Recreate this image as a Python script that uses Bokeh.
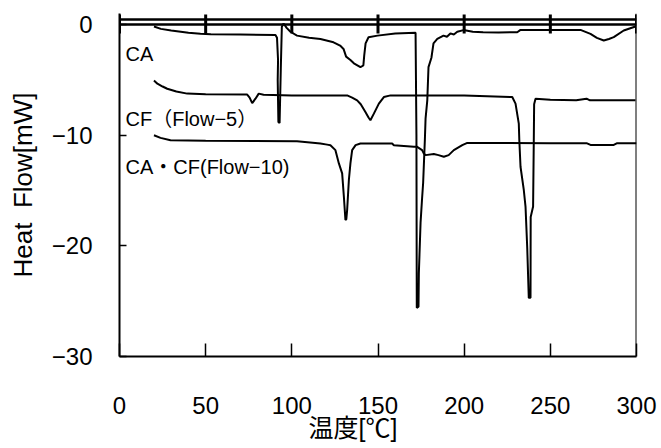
from bokeh.plotting import figure
from bokeh.models import Span, Range1d, FixedTicker
from bokeh.embed import file_html
from bokeh.resources import INLINE
from bokeh.core.properties import value

# ---- data ----
ca_x = [20, 24, 30, 40, 47, 53, 70, 90.5, 91.4, 92.0, 91.8, 92.2, 92.9, 93.6, 94.2, 95.2, 97, 99.2, 103, 110,
        116.6, 124.2, 128, 130, 131.5, 134, 136, 139.8, 141.5, 142.0, 142.8, 144.5, 149.7, 160, 171.8,
        172.3, 172.5, 173.5, 173.7, 174.7, 175.5, 176.2, 177.2, 177.6, 178.6, 179.3, 181, 182.2, 184.4,
        188, 190, 192, 194, 196, 199.6, 205, 211, 220, 230.8, 232.7, 250, 267.5, 273.3, 277, 281, 284,
        286.8, 292.6, 299.4]
ca_y = [-0.18, -0.39, -0.54, -0.75, -0.84, -0.88, -0.9, -0.95, -1.2, -3.2, -5.0, -8.8, -8.9, -4.0, -0.2, 0.1,
        -0.3, -0.65, -1.0, -1.2, -1.3, -1.6, -1.9, -2.2, -2.9, -3.2, -3.5, -3.85, -3.7, -2.8, -1.7, -1.15,
        -1.0, -0.8, -0.75, -10.0, -25.6, -25.5, -22.5, -17.9, -15.9, -14.3, -10.4, -8.5, -6.85, -3.85, -3.0,
        -1.7, -1.3, -1.0, -1.1, -0.8, -0.9, -0.65, -0.5, -0.65, -0.7, -0.72, -0.69, -0.48, -0.5, -0.48,
        -0.84, -1.2, -1.44, -1.3, -1.14, -0.54, -0.18]

cf_x = [20, 22, 25, 27.7, 33, 39.3, 50, 74.1, 75.5, 77, 78.9, 80.8, 83.6, 100, 132.1, 135, 137.9, 140,
        142.7, 144.5, 145.6, 147.6, 150.5, 153.4, 157.3, 200, 227.9, 229.8, 231.7, 232.0, 232.7, 234.6,
        235.6, 236.6, 237.5, 238.5, 238.6, 240.0, 240.4, 240.6, 241.4, 250, 265, 271, 273, 299.4]
cf_y = [-5.05, -5.34, -5.6, -5.8, -6.05, -6.24, -6.3, -6.33, -6.6, -7.1, -6.7, -6.24, -6.35, -6.4, -6.4,
        -6.6, -6.85, -7.2, -7.9, -8.4, -8.65, -8.05, -7.15, -6.55, -6.4, -6.4, -6.55, -7.15, -8.95, -10.45,
        -12.85, -14.95, -16.45, -20.2, -24.7, -24.7, -17.4, -16.45, -10.45, -7.2, -6.7, -6.8, -6.85, -6.7,
        -6.85, -6.85]

cacf_x = [20, 23.8, 29.6, 50, 103, 116.6, 120.5, 122.4, 125.3, 127.3, 129.2, 130.2, 131.1, 131.6, 132.1,
          133.1, 134, 135, 137, 139.8, 158.2, 159.2, 170.8, 172.7, 175.6, 176.6, 177.6, 182.4, 185.1, 188.2,
          191, 194, 198.9, 201.8, 250, 271, 273.3, 286.8, 288.8, 300]
cacf_y = [-10.0, -10.24, -10.45, -10.5, -10.54, -10.75, -10.85, -10.9, -11.35, -12.55, -13.45, -15.56,
          -17.66, -17.6, -16.76, -14.05, -12.55, -11.35, -10.9, -10.75, -10.75, -10.9, -11.05, -11.05,
          -11.35, -11.65, -11.8, -11.7, -11.8, -11.95, -11.8, -11.35, -10.9, -10.7, -10.72, -10.72, -10.88,
          -10.88, -10.72, -10.72]

series_names = ["CA", "CF（Flow−5）", "CA・CF(Flow−10)"]
label_x = [3.5, 3.5, 3.5]
label_y = [-2.62, -8.49, -12.83]

x_ticks = [0, 50, 100, 150, 200, 250, 300]
y_ticks = [-30, -20, -10, 0]
x_label = "温度[℃]\u3000\u3000"
y_label = "Heat\u00a0\u00a0Flow[mW]"

FONT = "Liberation Sans, Noto Sans CJK JP"

p = figure(width=661, height=448, x_range=Range1d(0, 300), y_range=Range1d(-30, 1.0),
           output_backend="svg", toolbar_location=None,
           min_border_left=119, min_border_right=25, min_border_top=13, min_border_bottom=92)
p.outline_line_color = None
p.xgrid.visible = False
p.ygrid.visible = False

for xs, ys in [(ca_x, ca_y), (cf_x, cf_y), (cacf_x, cacf_y)]:
    p.line(xs, ys, line_color="black", line_width=2)

# top double line and crossing ticks
p.add_layout(Span(location=0, dimension="width", line_color="black", line_width=2.5))
p.add_layout(Span(location=0.45, dimension="width", line_color="black", line_width=2.5))
p.add_layout(Span(location=300, dimension="height", line_color="black", line_width=2))
p.segment(x0=x_ticks, y0=[0.9] * len(x_ticks), x1=x_ticks, y1=[-0.8] * len(x_ticks),
          line_color="black", line_width=3)

p.text(x=label_x, y=label_y, text=series_names, text_font=value(FONT), text_font_size="20px",
       text_baseline="alphabetic", text_align="left", text_color="black")

for ax in (p.xaxis[0], p.yaxis[0]):
    ax.axis_line_width = 2
    ax.axis_line_color = "black"
    ax.major_tick_line_color = "black"
    ax.major_tick_line_width = 1.5
    ax.minor_tick_line_color = None
    ax.major_tick_out = 0
    ax.major_label_text_font = FONT
    ax.major_label_text_font_size = "24px"
    ax.major_label_text_color = "black"
    ax.axis_label_text_font = FONT
    ax.axis_label_text_font_style = "normal"
    ax.axis_label_text_color = "black"

p.xaxis.ticker = FixedTicker(ticks=x_ticks)
p.xaxis.major_tick_in = 13
p.xaxis.major_label_standoff = 40
p.xaxis.axis_label = x_label
p.xaxis.axis_label_text_font_size = "25px"
p.xaxis.axis_label_standoff = -3

p.yaxis.ticker = FixedTicker(ticks=y_ticks)
p.yaxis.major_tick_in = 7
p.yaxis.major_label_standoff = 27
p.yaxis.axis_label = y_label
p.yaxis.axis_label_text_font_size = "26px"
p.yaxis.axis_label_standoff = 11
p.yaxis.major_label_overrides = {-30: "−30", -20: "−20", -10: "−10", 0: "0"}

open("out.html", "w").write(file_html(p, INLINE))
